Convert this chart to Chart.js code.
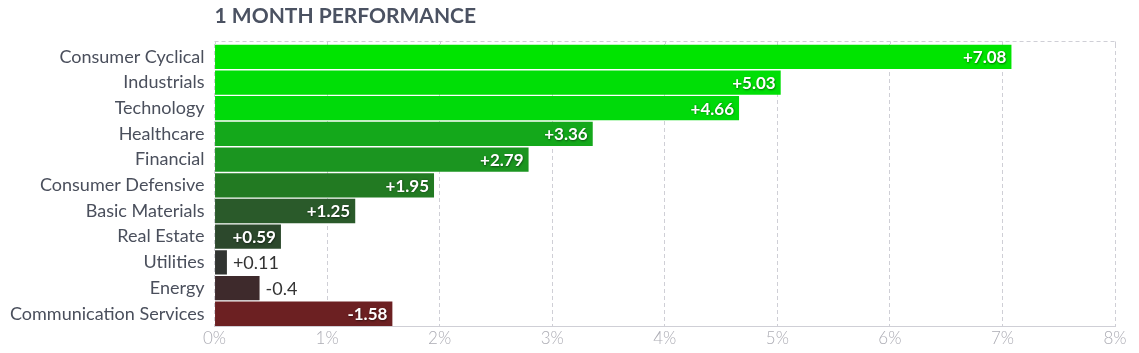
<!DOCTYPE html>
<html>
<head>
<meta charset="utf-8">
<script src="https://cdn.jsdelivr.net/npm/chart.js@4.4.1/dist/chart.umd.min.js"></script>
<style>
html,body{margin:0;padding:0;background:#fff;}
#wrap{position:relative;width:1139px;height:353px;}
</style>
</head>
<body>
<div id="wrap"><canvas id="c" width="1139" height="353"></canvas></div>
<script>
const categories = ["Consumer Cyclical","Industrials","Technology","Healthcare","Financial","Consumer Defensive","Basic Materials","Real Estate","Utilities","Energy","Communication Services"];
const values = [7.08, 5.03, 4.66, 3.36, 2.79, 1.95, 1.25, 0.59, 0.11, -0.4, -1.58];
const barColors = ["#00e400","#00df06","#00da0a","#14a81b","#1b9520","#227a22","#2a5a2a","#2c482c","#313431","#3e2a2c","#6c2022"];
const tickValues = [0,1,2,3,4,5,6,7,8];
const title = "1 MONTH PERFORMANCE";

const fmt = v => (v > 0 ? "+" : "") + v;

const labelPlugin = {
  id: 'valueLabels',
  afterDatasetsDraw(chart) {
    const ctx = chart.ctx;
    const meta = chart.getDatasetMeta(0);
    ctx.save();
    ctx.textBaseline = 'middle';
    meta.data.forEach((bar, i) => {
      const txt = fmt(values[i]);
      ctx.font = 'bold 17px Lato';
      const w = ctx.measureText(txt).width;
      const barW = bar.x - bar.base;
      if (barW >= w + 20) {
        ctx.textAlign = 'right';
        ctx.fillStyle = '#ffffff';
        ctx.shadowColor = 'rgba(0,0,0,0.5)';
        ctx.shadowBlur = 2;
        ctx.shadowOffsetX = 0.5;
        ctx.shadowOffsetY = 0.5;
        ctx.fillText(txt, bar.x - 5, bar.y + 1);
      } else {
        ctx.shadowColor = 'transparent';
        ctx.font = '18px Lato';
        ctx.textAlign = 'left';
        ctx.fillStyle = '#333333';
        ctx.fillText(txt, bar.x + 6, bar.y + 1);
      }
    });
    ctx.restore();
  }
};

const framePlugin = {
  id: 'frame',
  beforeDatasetsDraw(chart) {
    const {ctx, chartArea} = chart;
    ctx.save();
    ctx.strokeStyle = '#cfcfd6';
    ctx.lineWidth = 1;
    ctx.setLineDash([4,3]);
    const yTop = Math.round(chartArea.top) - 3 + 0.5;
    ctx.beginPath();
    ctx.moveTo(chartArea.left, yTop);
    ctx.lineTo(chartArea.right, yTop);
    ctx.stroke();
    // extend vertical gridlines up to the top frame line
    const xs = chart.scales.x;
    tickValues.forEach(v => {
      const x = Math.round(xs.getPixelForValue(v)) + 0.5;
      ctx.beginPath();
      ctx.moveTo(x, yTop);
      ctx.lineTo(x, chartArea.top);
      ctx.stroke();
    });
    ctx.restore();
  },
  afterDraw(chart) {
    const {ctx, chartArea} = chart;
    ctx.save();
    ctx.font = 'bold 21px Lato';
    ctx.fillStyle = '#4b5262';
    ctx.textAlign = 'left';
    ctx.textBaseline = 'alphabetic';
    ctx.fillText(title, chartArea.left, 23);
    ctx.restore();
  }
};

new Chart(document.getElementById('c'), {
  type: 'bar',
  data: {
    labels: categories,
    datasets: [{
      data: values.map(v => Math.abs(v)),
      backgroundColor: barColors,
      borderWidth: 0,
      barPercentage: 0.945,
      categoryPercentage: 1.0
    }]
  },
  options: {
    indexAxis: 'y',
    responsive: false,
    animation: false,
    devicePixelRatio: 1,
    layout: { padding: { top: 44, right: 24, left: 0, bottom: 2 } },
    plugins: { legend: { display: false }, tooltip: { enabled: false }, title: { display: false } },
    scales: {
      x: {
        min: 0, max: 8,
        afterBuildTicks(scale) { scale.ticks = tickValues.map(v => ({ value: v })); },
        ticks: {
          callback: v => v + '%',
          color: '#acacb4',
          font: { family: 'Lato', size: 17, weight: 300 },
          padding: 2,
          maxRotation: 0
        },
        grid: { color: '#cfcfd6', drawTicks: false, lineWidth: 1 },
        border: { display: true, dash: [4,3], color: '#cfcfd6' }
      },
      y: {
        ticks: {
          color: '#4a4f5c',
          font: { family: 'Lato', size: 18 },
          padding: 10
        },
        grid: { display: false, drawTicks: false },
        border: { display: false }
      }
    }
  },
  plugins: [labelPlugin, framePlugin]
});
</script>
</body>
</html>
